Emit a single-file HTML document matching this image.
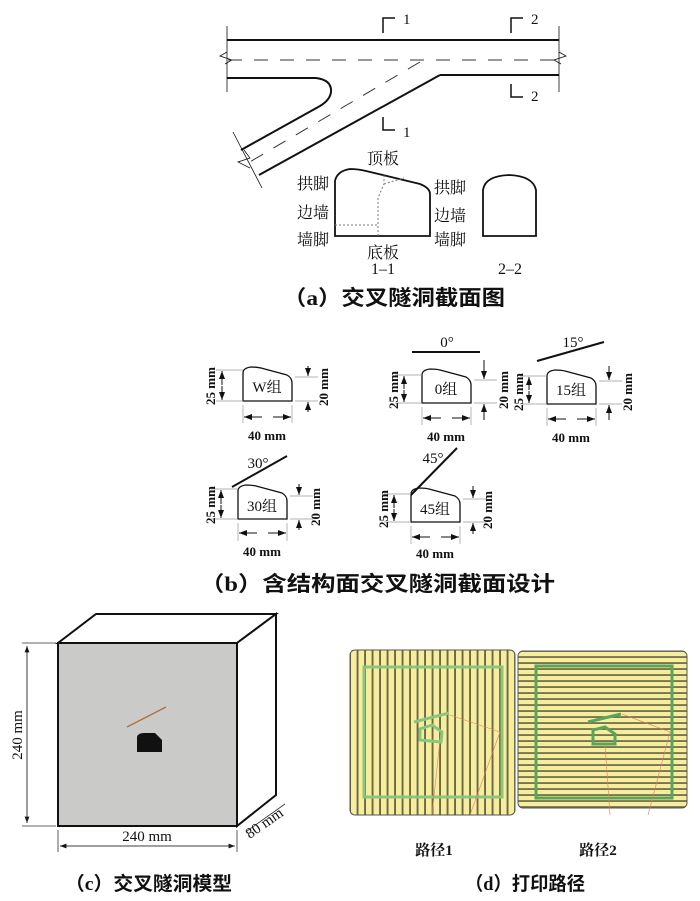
<!DOCTYPE html>
<html><head><meta charset="utf-8"><style>
html,body{margin:0;padding:0;background:#fff;}
svg{display:block;}
text{font-family:"Liberation Serif","Noto Serif CJK SC","Noto Sans CJK SC",serif;fill:#111;}
.cap{font-family:"Liberation Serif","Noto Sans CJK SC",sans-serif;font-size:21px;font-weight:bold;}
.lb{font-size:15px;}
.dm{font-size:13px;font-weight:bold;}
</style></head><body>
<svg width="700" height="901" viewBox="0 0 700 901" xmlns="http://www.w3.org/2000/svg">
<defs>
<pattern id="pv" x="350" y="0" width="7.5" height="10" patternUnits="userSpaceOnUse">
<rect width="7.5" height="10" fill="#6a6848"/><rect x="1" width="5.6" height="10" fill="#f6ee9c"/></pattern>
<pattern id="ph" x="0" y="651" width="10" height="6" patternUnits="userSpaceOnUse">
<rect width="10" height="6" fill="#6a6848"/><rect y="0.9" width="10" height="4.3" fill="#f6ee9c"/></pattern>
<g id="sec"><path d="M0,0 V-28 Q0,-33 8,-34 Q14,-34 18,-33 L44,-26 Q49,-23 49,-18 V0 Z" fill="#fff" stroke="#111" stroke-width="1.3"/></g>
<marker id="ar" markerWidth="8" markerHeight="6" refX="8" refY="3" orient="auto"><path d="M0,0 L8,3 L0,6Z" fill="#111"/></marker>
</defs>

<!-- (a) -->
<g stroke="#111" fill="none" stroke-width="2">
<line x1="227" y1="40" x2="559" y2="40"/>
<line x1="440" y1="75" x2="559" y2="75"/>
<line x1="440" y1="75" x2="259" y2="175"/>
<path d="M227,78 H316 Q332,80 331,92 Q330,100 320,106 L241,150"/>
</g>
<g stroke="#111" stroke-width="0.8" fill="none">
<line x1="227" y1="26" x2="227" y2="92"/><line x1="559" y1="26" x2="559" y2="92"/>
<polyline points="227,52 220,56 232,60 225,64"/><polyline points="559,52 566,56 554,60 561,64"/>
<line x1="233" y1="132" x2="262" y2="188"/><polyline points="244,150 250,158 238,162 250,168"/>
</g>
<g stroke="#333" stroke-width="1" stroke-dasharray="14,12">
<line x1="228" y1="60" x2="558" y2="60"/>
<line x1="420" y1="62" x2="248" y2="163"/>
</g>
<g stroke="#111" stroke-width="1.5" fill="none">
<polyline points="383,33 383,18 395,18"/><polyline points="383,117 383,130 395,130"/>
<polyline points="511,33 511,18 523,18"/><polyline points="511,84 511,97 523,97"/>
</g>
<text x="403" y="24" class="lb">1</text><text x="403" y="137" class="lb">1</text>
<text x="531" y="24" class="lb">2</text><text x="531" y="101" class="lb">2</text>
<path d="M335,236 V181 Q337,171 350,169 Q358,169 366,171 L420,184 Q430,188 430,194 V236 Z" fill="none" stroke="#111" stroke-width="1.8"/>
<g stroke="#777" stroke-width="1" stroke-dasharray="2,2" fill="none">
<polyline points="378,236 378,198 384,184 384,174"/><line x1="335" y1="225" x2="378" y2="225"/>
<line x1="384" y1="184" x2="404" y2="178"/>
</g>
<path d="M483,236 V190 Q485,176 509,175 Q533,176 536,190 V236 Z" fill="none" stroke="#111" stroke-width="1.8"/>
<g class="lb" style="font-size:16px"><text x="383" y="164" text-anchor="middle">顶板</text>
<text x="297" y="189">拱脚</text><text x="297" y="218">边墙</text><text x="297" y="245">墙脚</text>
<text x="434" y="193">拱脚</text><text x="434" y="221">边墙</text><text x="434" y="245">墙脚</text>
<text x="383" y="258" text-anchor="middle">底板</text><text x="383" y="274" text-anchor="middle">1–1</text>
<text x="510" y="274" text-anchor="middle">2–2</text></g>
<text x="283" y="305" class="cap" textLength="222" lengthAdjust="spacingAndGlyphs">（a）交叉隧洞截面图</text>

<!-- (b) -->
<use href="#sec" x="243" y="401"/>
<use href="#sec" x="422" y="403"/>
<use href="#sec" x="547" y="404"/>
<use href="#sec" x="238" y="519"/>
<use href="#sec" x="411" y="522"/>
<g text-anchor="middle" style="font-size:15px">
<text x="267" y="392">W组</text><text x="446" y="394">0组</text><text x="571" y="395">15组</text>
<text x="262" y="511">30组</text><text x="435" y="514">45组</text></g>
<g stroke="#111" stroke-width="2">
<line x1="412" y1="352" x2="480" y2="352"/><line x1="537" y1="361" x2="604" y2="342"/>
<line x1="232" y1="487" x2="287" y2="456"/><line x1="411" y1="495" x2="457" y2="448"/>
</g>
<g class="lb"><text x="447" y="347" text-anchor="middle">0°</text><text x="573" y="347" text-anchor="middle">15°</text>
<text x="258" y="468" text-anchor="middle">30°</text><text x="433" y="463" text-anchor="middle">45°</text></g>
<g stroke="#999" stroke-width="0.7">
<line x1="216" y1="370" x2="243" y2="370"/><line x1="216" y1="401" x2="243" y2="401"/>
<line x1="295" y1="377" x2="318" y2="377"/><line x1="295" y1="401" x2="318" y2="401"/>
<line x1="243" y1="405" x2="243" y2="423"/><line x1="292" y1="405" x2="292" y2="423"/>
<line x1="395" y1="375" x2="422" y2="375"/><line x1="395" y1="403" x2="422" y2="403"/>
<line x1="474" y1="380" x2="497" y2="380"/><line x1="474" y1="403" x2="497" y2="403"/>
<line x1="422" y1="407" x2="422" y2="425"/><line x1="471" y1="407" x2="471" y2="425"/>
<line x1="520" y1="376" x2="547" y2="376"/><line x1="520" y1="404" x2="547" y2="404"/>
<line x1="599" y1="381" x2="622" y2="381"/><line x1="599" y1="404" x2="622" y2="404"/>
<line x1="547" y1="408" x2="547" y2="426"/><line x1="596" y1="408" x2="596" y2="426"/>
<line x1="211" y1="489" x2="238" y2="489"/><line x1="211" y1="519" x2="238" y2="519"/>
<line x1="290" y1="496" x2="313" y2="496"/><line x1="290" y1="519" x2="313" y2="519"/>
<line x1="238" y1="523" x2="238" y2="541"/><line x1="287" y1="523" x2="287" y2="541"/>
<line x1="384" y1="494" x2="411" y2="494"/><line x1="384" y1="522" x2="411" y2="522"/>
<line x1="463" y1="499" x2="486" y2="499"/><line x1="463" y1="522" x2="486" y2="522"/>
<line x1="411" y1="526" x2="411" y2="544"/><line x1="460" y1="526" x2="460" y2="544"/>
</g>
<g stroke="#111" stroke-width="1" marker-end="url(#ar)">
<line x1="222" y1="385" x2="222" y2="371"/><line x1="222" y1="386" x2="222" y2="400"/>
<line x1="308" y1="366" x2="308" y2="376"/><line x1="308" y1="412" x2="308" y2="402"/>
<line x1="262" y1="417" x2="244" y2="417"/><line x1="273" y1="417" x2="291" y2="417"/>
<line x1="404" y1="389" x2="404" y2="376"/><line x1="404" y1="390" x2="404" y2="402"/>
<line x1="484" y1="360" x2="484" y2="379"/><line x1="484" y1="420" x2="484" y2="404"/>
<line x1="441" y1="418" x2="423" y2="418"/><line x1="452" y1="418" x2="470" y2="418"/>
<line x1="529" y1="390" x2="529" y2="377"/><line x1="529" y1="391" x2="529" y2="403"/>
<line x1="609" y1="366" x2="609" y2="380"/><line x1="609" y1="420" x2="609" y2="405"/>
<line x1="566" y1="419" x2="548" y2="419"/><line x1="577" y1="419" x2="595" y2="419"/>
<line x1="221" y1="504" x2="221" y2="490"/><line x1="221" y1="505" x2="221" y2="518"/>
<line x1="299" y1="484" x2="299" y2="495"/><line x1="299" y1="530" x2="299" y2="520"/>
<line x1="257" y1="533" x2="239" y2="533"/><line x1="268" y1="533" x2="286" y2="533"/>
<line x1="394" y1="508" x2="394" y2="495"/><line x1="394" y1="509" x2="394" y2="521"/>
<line x1="473" y1="486" x2="473" y2="498"/><line x1="473" y1="534" x2="473" y2="523"/>
<line x1="430" y1="537" x2="412" y2="537"/><line x1="441" y1="537" x2="459" y2="537"/>
</g>
<g class="dm">
<text x="267" y="440" text-anchor="middle">40 mm</text><text x="446" y="441" text-anchor="middle">40 mm</text>
<text x="571" y="442" text-anchor="middle">40 mm</text><text x="262" y="556" text-anchor="middle">40 mm</text>
<text x="435" y="558" text-anchor="middle">40 mm</text>
<text transform="translate(215,386) rotate(-90)" text-anchor="middle">25 mm</text>
<text transform="translate(328,387) rotate(-90)" text-anchor="middle">20 mm</text>
<text transform="translate(398,390) rotate(-90)" text-anchor="middle">25 mm</text>
<text transform="translate(508,390) rotate(-90)" text-anchor="middle">20 mm</text>
<text transform="translate(523,392) rotate(-90)" text-anchor="middle">25 mm</text>
<text transform="translate(632,392) rotate(-90)" text-anchor="middle">20 mm</text>
<text transform="translate(215,505) rotate(-90)" text-anchor="middle">25 mm</text>
<text transform="translate(320,507) rotate(-90)" text-anchor="middle">20 mm</text>
<text transform="translate(388,509) rotate(-90)" text-anchor="middle">25 mm</text>
<text transform="translate(492,510) rotate(-90)" text-anchor="middle">20 mm</text>
</g>
<text x="200" y="591" class="cap" textLength="355" lengthAdjust="spacingAndGlyphs">（b）含结构面交叉隧洞截面设计</text>

<!-- (c) -->
<path d="M58,643 L96,614 L276,614 L237,643 Z" fill="#fff" stroke="#111" stroke-width="2"/>
<path d="M237,643 L276,614 L276,795 L237,826 Z" fill="#fff" stroke="#111" stroke-width="2"/>
<rect x="58" y="643" width="179" height="183" fill="#cacac8" stroke="#111" stroke-width="2"/>
<line x1="127" y1="727" x2="166" y2="707" stroke="#b0703e" stroke-width="1.3"/>
<path d="M137,752 V737 Q138,733 144,733 H155 L162,740 V752 Z" fill="#111"/>
<g stroke="#333" stroke-width="0.8">
<line x1="22" y1="643" x2="56" y2="643"/><line x1="22" y1="826" x2="56" y2="826"/>
<line x1="58" y1="830" x2="58" y2="852"/><line x1="237" y1="830" x2="237" y2="852"/>
<line x1="27" y1="646" x2="27" y2="823" marker-end="url(#ar)"/><line x1="27" y1="823" x2="27" y2="646" marker-end="url(#ar)"/>
<line x1="60" y1="846" x2="235" y2="846" marker-end="url(#ar)"/><line x1="235" y1="846" x2="60" y2="846" marker-end="url(#ar)"/>
<line x1="247" y1="831" x2="285" y2="804"/>
</g>
<text x="147" y="841" text-anchor="middle" class="lb">240 mm</text>
<text transform="translate(22,735) rotate(-90)" text-anchor="middle" class="lb">240 mm</text>
<text transform="translate(267,827) rotate(-35)" text-anchor="middle" class="lb">80 mm</text>
<text x="65" y="890" class="cap" style="font-size:19px" textLength="167" lengthAdjust="spacingAndGlyphs">（c）交叉隧洞模型</text>

<!-- (d) -->
<rect x="350" y="650" width="165" height="165" rx="5" fill="url(#pv)" stroke="#555" stroke-width="1"/>
<rect x="364" y="667" width="138" height="130" fill="none" stroke="#8cc67d" stroke-width="3"/>
<rect x="518" y="651" width="169" height="157" rx="5" fill="url(#ph)" stroke="#555" stroke-width="1"/>
<rect x="536" y="666" width="136" height="132" fill="none" stroke="#5aa55a" stroke-width="3"/>
<g stroke="#e57a6a" stroke-width="0.6" fill="none">
<polyline points="450,715 500,732 470,815"/><polyline points="440,740 432,815"/>
<polyline points="622,714 670,732 648,815"/><polyline points="605,744 610,815"/>
</g>
<line x1="414" y1="722" x2="449" y2="713" stroke="#8cc67d" stroke-width="3"/>
<path d="M420,740 V729 L432,725 L442,732 L441,742 Z" fill="none" stroke="#8cc67d" stroke-width="3"/>
<line x1="588" y1="722" x2="621" y2="714" stroke="#5aa55a" stroke-width="3"/>
<path d="M593,744 V730 L605,727 L615,734 L615,744 Z" fill="none" stroke="#5aa55a" stroke-width="3"/>
<text x="434" y="855" text-anchor="middle" class="lb" style="font-weight:bold">路径1</text>
<text x="598" y="855" text-anchor="middle" class="lb" style="font-weight:bold">路径2</text>
<text x="465" y="890" class="cap" style="font-size:19px" textLength="120" lengthAdjust="spacingAndGlyphs">（d）打印路径</text>
</svg>
</body></html>
